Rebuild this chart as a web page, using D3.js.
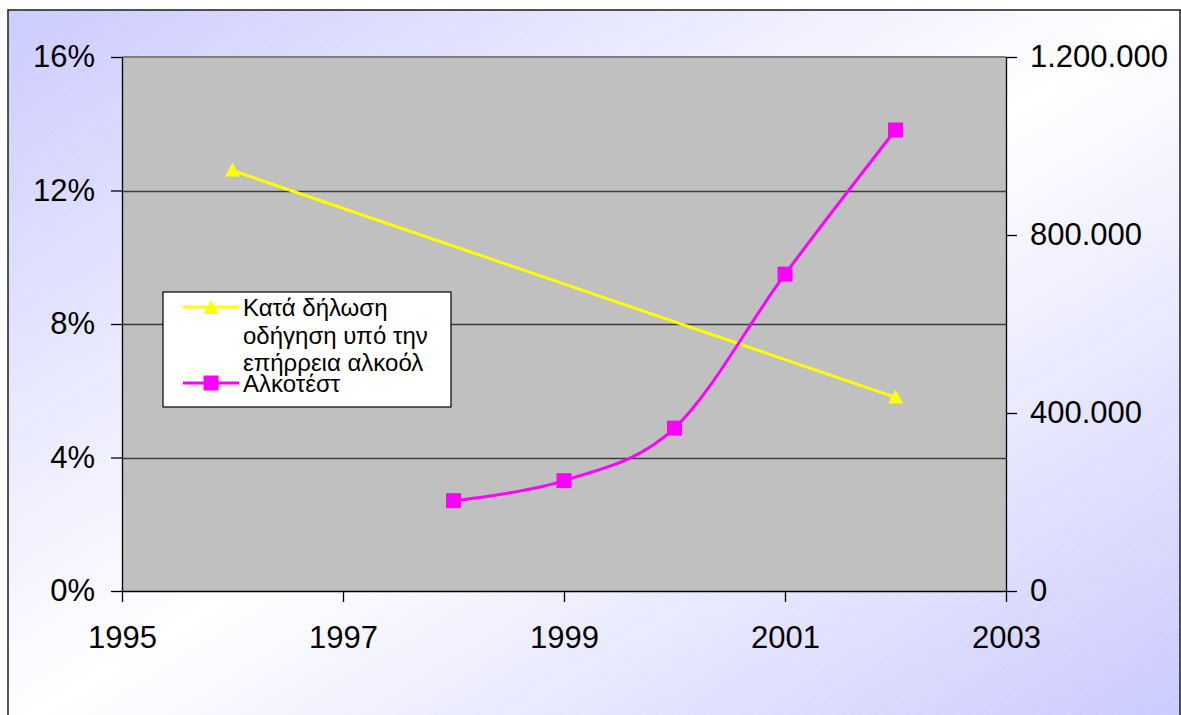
<!DOCTYPE html>
<html>
<head>
<meta charset="utf-8">
<script src="https://cdn.jsdelivr.net/npm/d3@7"></script>
<style>
  html, body { margin: 0; padding: 0; background: #ffffff; }
  svg { display: block; font-family: "Liberation Sans", Arial, sans-serif; }
</style>
</head>
<body>
<svg id="chart" width="1181" height="715"></svg>
<script>
// ---- data ----
const selfReportYears = [1996, 2002];
const selfReportPct = [0.126, 0.058];
const alcotestYears = [1998, 1999, 2000, 2001, 2002];
const alcotestCounts = [203000, 248000, 366000, 712000, 1036000];
const xTicks = [1995, 1997, 1999, 2001, 2003];
const leftTicks = [0, 0.04, 0.08, 0.12, 0.16];
const leftTickLabels = ["0%", "4%", "8%", "12%", "16%"];
const rightTicks = [0, 400000, 800000, 1200000];
const rightTickLabels = ["0", "400.000", "800.000", "1.200.000"];
const seriesNames = [["Κατά δήλωση", "οδήγηση υπό την", "επήρρεια αλκοόλ"], ["Αλκοτέστ"]];

// ---- layout ----
const svg = d3.select("#chart");
const P = { left: 122, right: 1006, top: 57, bottom: 591 };
const AXIS_FONT = 31;

const defs = svg.append("defs");
const grad = defs.append("linearGradient").attr("id", "bg")
  .attr("x1", 0).attr("y1", 0).attr("x2", 1).attr("y2", 1);
grad.append("stop").attr("offset", 0).attr("stop-color", "#cbcbff");
grad.append("stop").attr("offset", 0.5).attr("stop-color", "#ffffff");
grad.append("stop").attr("offset", 1).attr("stop-color", "#c9c9ff");

const pat = defs.append("pattern").attr("id", "hatch")
  .attr("patternUnits", "userSpaceOnUse").attr("width", 9).attr("height", 9)
  .attr("patternTransform", "rotate(-35)");
pat.append("line").attr("x1", 0).attr("y1", 0).attr("x2", 9).attr("y2", 0)
  .attr("stroke", "#ffffff").attr("stroke-width", 1).attr("stroke-opacity", 0.3);

// outer chart box
svg.append("rect").attr("x", 8).attr("y", 10).attr("width", 1172).attr("height", 722)
  .attr("fill", "url(#bg)");
svg.append("rect").attr("x", 8).attr("y", 10).attr("width", 1172).attr("height", 722)
  .attr("fill", "url(#hatch)");
svg.append("rect").attr("x", 8).attr("y", 10).attr("width", 1172).attr("height", 722)
  .attr("fill", "none").attr("stroke", "#2a2a2a").attr("stroke-width", 1.6);

// scales
const x = d3.scaleLinear().domain([1995, 2003]).range([P.left, P.right]);
const yL = d3.scaleLinear().domain([0, 0.16]).range([P.bottom, P.top]);
const yR = d3.scaleLinear().domain([0, 1200000]).range([P.bottom, P.top]);

// plot area
svg.append("rect").attr("x", P.left).attr("y", P.top)
  .attr("width", P.right - P.left).attr("height", P.bottom - P.top)
  .attr("fill", "#c0c0c0");
svg.append("line").attr("x1", P.left).attr("x2", P.right).attr("y1", P.top).attr("y2", P.top)
  .attr("stroke", "#808080").attr("stroke-width", 2);

// gridlines
svg.append("g").selectAll("line").data(leftTicks.slice(1, -1)).join("line")
  .attr("x1", x(1995)).attr("x2", x(2003))
  .attr("y1", d => Math.round(yL(d)) + 0.5).attr("y2", d => Math.round(yL(d)) + 0.5)
  .attr("stroke", "#3c3c3c").attr("stroke-width", 1.6);

// axes
function styleAxis(g) {
  g.selectAll("path.domain").attr("stroke", "#000").attr("stroke-width", 1.3);
  g.selectAll(".tick line").attr("stroke", "#000").attr("stroke-width", 1.3);
  g.selectAll("text").attr("fill", "#000").attr("font-size", AXIS_FONT)
    .attr("font-family", "'Liberation Sans', Arial, sans-serif");
}
svg.append("g").attr("transform", `translate(${P.left},0)`)
  .call(d3.axisLeft(yL).tickValues(leftTicks).tickFormat((d, i) => leftTickLabels[i])
    .tickSizeInner(11).tickSizeOuter(0).tickPadding(16))
  .call(styleAxis);
svg.append("g").attr("transform", `translate(${P.right},0)`)
  .call(d3.axisRight(yR).tickValues(rightTicks).tickFormat((d, i) => rightTickLabels[i])
    .tickSizeInner(11).tickSizeOuter(0).tickPadding(13))
  .call(styleAxis);
svg.append("g").attr("transform", `translate(0,${P.bottom})`)
  .call(d3.axisBottom(x).tickValues(xTicks).tickFormat(d3.format("d"))
    .tickSizeInner(11).tickSizeOuter(0).tickPadding(24))
  .call(styleAxis);

// series
const selfData = selfReportYears.map((yr, i) => ({ x: yr, y: selfReportPct[i] }));
const alcoData = alcotestYears.map((yr, i) => ({ x: yr, y: alcotestCounts[i] }));

svg.append("path").datum(selfData)
  .attr("d", d3.line().x(d => x(d.x)).y(d => yL(d.y)))
  .attr("fill", "none").attr("stroke", "#ffff00").attr("stroke-width", 3);

svg.append("path").datum(alcoData)
  .attr("d", d3.line().x(d => x(d.x)).y(d => yR(d.y)).curve(d3.curveCatmullRom.alpha(0)))
  .attr("fill", "none").attr("stroke", "#ff00ff").attr("stroke-width", 3);

const triPath = "M0,-8 L7.5,6 L-7.5,6 Z";
svg.append("g").selectAll("path").data(selfData).join("path")
  .attr("transform", d => `translate(${x(d.x)},${yL(d.y)})`)
  .attr("d", triPath).attr("fill", "#ffff00");

svg.append("g").selectAll("rect").data(alcoData).join("rect")
  .attr("x", d => x(d.x) - 7.5).attr("y", d => yR(d.y) - 7.5)
  .attr("width", 15).attr("height", 15).attr("fill", "#ff00ff");

// legend
const lg = svg.append("g");
lg.append("rect").attr("x", 163).attr("y", 292).attr("width", 288).attr("height", 115)
  .attr("fill", "#ffffff").attr("stroke", "#000").attr("stroke-width", 1.2);
lg.append("line").attr("x1", 183).attr("x2", 239).attr("y1", 307).attr("y2", 307)
  .attr("stroke", "#ffff00").attr("stroke-width", 3);
lg.append("path").attr("transform", "translate(211,308)").attr("d", triPath).attr("fill", "#ffff00");
lg.append("line").attr("x1", 183).attr("x2", 239).attr("y1", 383).attr("y2", 383)
  .attr("stroke", "#ff00ff").attr("stroke-width", 3);
lg.append("rect").attr("x", 203.5).attr("y", 375.5).attr("width", 15).attr("height", 15).attr("fill", "#ff00ff");

const t1 = lg.append("text").attr("font-size", 24).attr("fill", "#000");
const baselines1 = [316, 343.5, 371];
seriesNames[0].forEach((s, i) => {
  t1.append("tspan").attr("x", 243).attr("y", baselines1[i]).text(s);
});
lg.append("text").attr("font-size", 24).attr("fill", "#000")
  .attr("x", 243).attr("y", 392).text(seriesNames[1][0]);
</script>
</body>
</html>
